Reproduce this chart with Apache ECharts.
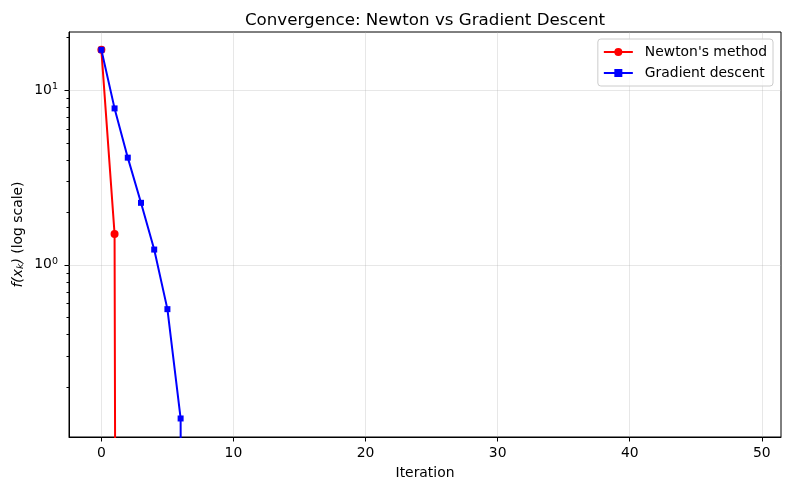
<!DOCTYPE html>
<html lang="en">
<head>
    <meta charset="UTF-8">
    <title>Convergence</title>
    <style>
        body {
            margin: 0;
            padding: 0;
            background: #fff;
        }
        #chart {
            width: 790px;
            height: 490px;
        }
    </style>
</head>
<body>
<div id="chart"></div>
<script src="https://cdn.jsdelivr.net/npm/echarts@6/dist/echarts.min.js"></script>
<script>
    // values; the last point of each run is "zero"
    // (below the visible log range), so the line drops off the bottom
    const newtonIter = [0, 1, 2];
    const newtonF = [17.0, 1.5, 1e-30];
    const gdIter = [0, 1, 2, 3, 4, 5, 6, 7];
    const gdF = [17.0, 7.85, 4.1, 2.26, 1.22, 0.556, 0.1315, 1e-30];

    const xTicks = [0, 10, 20, 30, 40, 50];
    const yMajor = [1, 10];
    const yMinor = [0.2, 0.3, 0.4, 0.5, 0.6, 0.7, 0.8, 0.9, 2, 3, 4, 5, 6, 7, 8, 9, 20];

    const font = "DejaVu Sans";
    const gridColor = "rgba(176,176,176,0.3)";

    const chart = echarts.init(document.getElementById("chart"));

    function pairs(xs, ys) {
        return xs.map((x, i) => (ys[i] < 1e-20 ? {value: [x, ys[i]], symbol: "none"} : [x, ys[i]]));
    }

    // y ticks (major + minor) and y grid lines, placed with the log axis
    function renderYTicks(params, api) {
        const v = api.value(0);
        const major = api.value(1) === 1;
        const cs = params.coordSys;
        const y = Math.round(api.coord([0, v])[1]) + 0.5;
        const len = major ? 4.5 : 2.5;
        const children = [{
            type: "line",
            shape: {x1: cs.x - len, y1: y, x2: cs.x, y2: y},
            style: {stroke: "#000", lineWidth: 1}
        }];
        if (major) {
            children.push({
                type: "line",
                shape: {x1: cs.x, y1: y, x2: cs.x + cs.width, y2: y},
                style: {stroke: gridColor, lineWidth: 1}
            });
        }
        return {type: "group", children};
    }

    const yTickData = yMajor.map(v => [v, 1]).concat(yMinor.map(v => [v, 0]));

    const option = {
        backgroundColor: "#fff",
        animation: false,
        textStyle: {fontFamily: font},
        title: {
            text: "Convergence: Newton vs Gradient Descent",
            left: 420,
            textAlign: "center",
            top: 7,
            textStyle: {fontFamily: font, fontSize: 16.7, fontWeight: "normal", color: "#000"}
        },
        grid: {
            left: 69, right: 9, top: 32, bottom: 53,
            show: true,
            borderColor: "#000",
            borderWidth: 1,
            backgroundColor: "transparent"
        },
        legend: {
            orient: "vertical",
            right: 17,
            top: 39,
            padding: [6, 6, 6, 5],
            itemGap: 7,
            itemWidth: 29,
            itemHeight: 10,
            backgroundColor: "rgba(255,255,255,0.8)",
            borderColor: "#cccccc",
            borderWidth: 1,
            borderRadius: 3,
            textStyle: {fontFamily: font, fontSize: 13.9, color: "#000", padding: [0, 0, 0, 7]},
            data: ["Newton's method", "Gradient descent"]
        },
        xAxis: {
            type: "value",
            min: -2.45,
            max: 51.45,
            name: "Iteration",
            nameLocation: "middle",
            nameGap: 29,
            nameTextStyle: {fontFamily: font, fontSize: 13.9, color: "#000"},
            axisLine: {show: true, onZero: false, lineStyle: {color: "#000", width: 1}},
            axisTick: {show: true, length: 4.5, customValues: xTicks, lineStyle: {color: "#000"}},
            axisLabel: {customValues: xTicks, fontFamily: font, fontSize: 13.9, color: "#000", margin: 9},
            splitLine: {show: true, lineStyle: {color: gridColor, width: 1}}
        },
        yAxis: {
            type: "log",
            logBase: 10,
            min: 0.103,
            max: 21.5,
            name: "{i|f(x}{s|k}{i|)} (log scale)",
            nameLocation: "middle",
            nameGap: 43,
            nameMoveOverlap: false,
            nameRotate: 90,
            nameTextStyle: {
                fontFamily: font, fontSize: 13.9, color: "#000",
                rich: {
                    i: {fontFamily: font, fontSize: 13.9, fontStyle: "italic", color: "#000"},
                    s: {fontFamily: font, fontSize: 9.5, fontStyle: "italic", color: "#000", padding: [6, 0, 0, 0]}
                }
            },
            axisLine: {show: true, onZero: false, lineStyle: {color: "#000", width: 1}},
            axisTick: {show: false},
            splitLine: {show: false},
            axisLabel: {
                fontFamily: font, fontSize: 13.9, color: "#000", margin: 11,
                showMinLabel: false,
                showMaxLabel: false,
                formatter: v => {
                    const e = Math.log10(v);
                    if (Math.abs(e - Math.round(e)) > 1e-6) return "";
                    return "{b|10}{p|" + Math.round(e) + "}";
                },
                rich: {
                    b: {fontFamily: font, fontSize: 13.9, color: "#000"},
                    p: {fontFamily: font, fontSize: 9.5, color: "#000", padding: [0, 0, 7, 0]}
                }
            }
        },
        series: [
            {
                type: "custom",
                name: "yticks",
                silent: true,
                renderItem: renderYTicks,
                encode: {y: 0},
                data: yTickData,
                z: 1
            },
            {
                name: "Newton's method",
                type: "line",
                data: pairs(newtonIter, newtonF),
                symbol: "circle",
                symbolSize: 8,
                lineStyle: {color: "#ff0000", width: 2},
                itemStyle: {color: "#ff0000"},
                clip: true,
                z: 3
            },
            {
                name: "Gradient descent",
                type: "line",
                data: pairs(gdIter, gdF),
                symbol: "rect",
                symbolSize: 6,
                lineStyle: {color: "#0000ff", width: 2},
                itemStyle: {color: "#0000ff"},
                clip: true,
                z: 4
            }
        ]
    };

    chart.setOption(option);
</script>
</body>
</html>
